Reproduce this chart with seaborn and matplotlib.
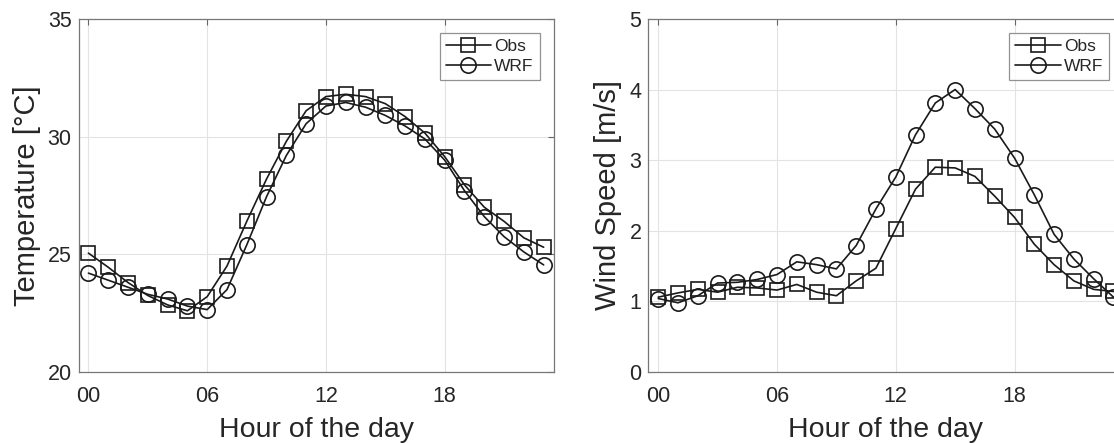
import matplotlib
matplotlib.use("Agg")
import matplotlib.pyplot as plt
import seaborn as sns

hours = list(range(24))
hour_ticks = [0, 6, 12, 18]
hour_tick_labels = ["00", "06", "12", "18"]

temp_obs = [25.05, 24.45, 23.8, 23.25, 22.85, 22.6, 23.2, 24.5, 26.4, 28.2, 29.8, 31.1,
            31.7, 31.8, 31.7, 31.4, 30.85, 30.15, 29.15, 27.95, 27.0, 26.4, 25.7, 25.3]
temp_wrf = [24.2, 23.9, 23.6, 23.3, 23.1, 22.8, 22.65, 23.5, 25.4, 27.45, 29.2, 30.55,
            31.3, 31.45, 31.25, 30.9, 30.45, 29.9, 29.0, 27.7, 26.6, 25.75, 25.1, 24.55]

wind_obs = [1.06, 1.12, 1.17, 1.13, 1.2, 1.19, 1.16, 1.24, 1.13, 1.08, 1.29, 1.47,
            2.03, 2.59, 2.9, 2.89, 2.77, 2.49, 2.19, 1.81, 1.52, 1.29, 1.17, 1.14]
wind_wrf = [1.04, 0.98, 1.08, 1.26, 1.27, 1.31, 1.38, 1.56, 1.52, 1.46, 1.79, 2.31,
            2.76, 3.36, 3.81, 4.0, 3.73, 3.44, 3.03, 2.51, 1.95, 1.6, 1.32, 1.06]

sns.set_style("white")
plt.rcParams["font.family"] = ["Liberation Sans", "DejaVu Sans"]
plt.rcParams["text.color"] = "#262626"
plt.rcParams["xtick.color"] = "#262626"
plt.rcParams["ytick.color"] = "#262626"

fig = plt.figure(figsize=(11.14, 4.43), dpi=100)
# the right panel runs past the figure edge, as in the cropped original
ax1 = fig.add_axes([0.0705, 0.1603, 0.4264, 0.797])
ax2 = fig.add_axes([0.582, 0.1603, 0.4264, 0.797])

line_kws = dict(color="#1a1a1a", linewidth=1.2, markerfacecolor="none",
                markeredgecolor="#1a1a1a", markeredgewidth=1.2)


def style_axes(ax, ylim, yticks, ylabel):
    ax.set_xlim(-0.5, 23.5)
    ax.set_ylim(*ylim)
    ax.set_xticks(hour_ticks)
    ax.set_xticklabels(hour_tick_labels)
    ax.set_yticks(yticks)
    ax.grid(True, color="#e3e3e3", linewidth=0.8)
    ax.set_axisbelow(True)
    ax.tick_params(direction="in", top=True, right=True, length=4, width=0.8,
                   color="#666666", labelsize=15.5)
    ax.tick_params(axis="x", pad=10)
    ax.tick_params(axis="y", pad=5)
    for s in ax.spines.values():
        s.set_color("#777777")
        s.set_linewidth(0.9)
    ax.set_xlabel("Hour of the day", fontsize=20.5, labelpad=7)
    ax.set_ylabel(ylabel, fontsize=21, labelpad=5)
    leg = ax.legend(loc="upper right", fancybox=False, frameon=True, fontsize=12.5,
                    handlelength=2.6, borderaxespad=0.8, borderpad=0.35,
                    labelspacing=0.3, handletextpad=0.2)
    leg.get_frame().set_edgecolor("#777777")
    leg.get_frame().set_linewidth(0.9)


sns.lineplot(x=hours, y=temp_obs, marker="s", markersize=9.5, label="Obs", ax=ax1, **line_kws)
sns.lineplot(x=hours, y=temp_wrf, marker="o", markersize=11, label="WRF", ax=ax1, **line_kws)
style_axes(ax1, (20, 35), [20, 25, 30, 35], "Temperature [°C]")

sns.lineplot(x=hours, y=wind_obs, marker="s", markersize=9.5, label="Obs", ax=ax2, **line_kws)
sns.lineplot(x=hours, y=wind_wrf, marker="o", markersize=11, label="WRF", ax=ax2, **line_kws)
style_axes(ax2, (0, 5), [0, 1, 2, 3, 4, 5], "Wind Speed [m/s]")

fig.savefig("out.png", dpi=100)
